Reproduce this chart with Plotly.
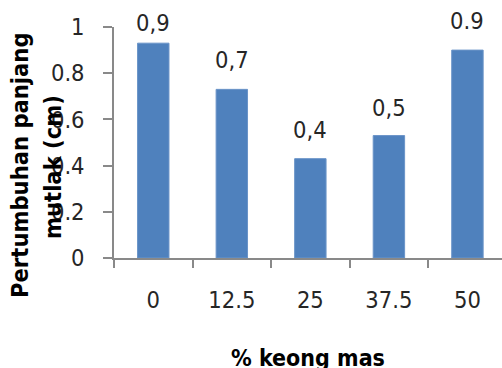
import plotly.graph_objects as go

categories = ["0", "12.5", "25", "37.5", "50"]
values = [0.93, 0.73, 0.43, 0.53, 0.90]
value_labels = ["0,9", "0,7", "0,4", "0,5", "0.9"]
label_shift = [20, 29, 29, 28, 29]

bar_color = "#4F81BD"
axis_color = "#898989"
text_color = "#262626"
FONT = "DejaVu Sans Condensed, DejaVu Sans"

fig = go.Figure()
fig.add_trace(go.Bar(
    x=categories, y=values,
    marker=dict(color=bar_color, line=dict(color="#6A94C8", width=1)),
    width=0.4,
))

for i, (v, t, s) in enumerate(zip(values, value_labels, label_shift)):
    fig.add_annotation(x=i, y=v, xref="x", yref="y", text=t, showarrow=False,
                       yanchor="middle", xanchor="center", yshift=s,
                       font=dict(family=FONT, size=23.5, color=text_color))

fig.add_annotation(x=-0.2423, y=0.4026, xref="paper", yref="paper",
                   text="Pertumbuhan panjang", textangle=-90, showarrow=False,
                   xanchor="center", yanchor="middle",
                   font=dict(family=FONT, size=23.5, color="#000000", weight="bold"))
fig.add_annotation(x=-0.157, y=0.394, xref="paper", yref="paper",
                   text="mutlak (cm)", textangle=-90, showarrow=False,
                   xanchor="center", yanchor="middle",
                   font=dict(family=FONT, size=23.5, color="#000000", weight="bold"))
fig.add_annotation(x=0.5, y=-0.433, xref="paper", yref="paper",
                   text="% keong mas", showarrow=False,
                   xanchor="center", yanchor="middle",
                   font=dict(family=FONT, size=23, color="#000000", weight="bold"))

fig.update_layout(
    width=502, height=368,
    margin=dict(l=114, r=0, t=27, b=110),
    paper_bgcolor="white", plot_bgcolor="white",
    showlegend=False,
    xaxis=dict(type="category", range=[-0.5, 4.44], tickson="boundaries",
               ticks="outside", ticklen=8, tickwidth=1.5, tickcolor=axis_color,
               showline=True, linecolor=axis_color, linewidth=1.5,
               showgrid=False, ticklabelstandoff=20,
               tickfont=dict(family=FONT, size=23.5, color=text_color)),
    yaxis=dict(range=[0, 1], tickvals=[0, 0.2, 0.4, 0.6, 0.8, 1],
               ticktext=["0", "0.2", "0.4", "0.6", "0.8", "1"],
               ticks="outside", ticklen=9, tickwidth=1.5, tickcolor=axis_color,
               showline=True, linecolor=axis_color, linewidth=1.5,
               showgrid=False, zeroline=False, ticklabelstandoff=14,
               tickfont=dict(family=FONT, size=23.5, color=text_color)),
)
fig.update_traces(cliponaxis=False)

fig.write_html("out.html")
